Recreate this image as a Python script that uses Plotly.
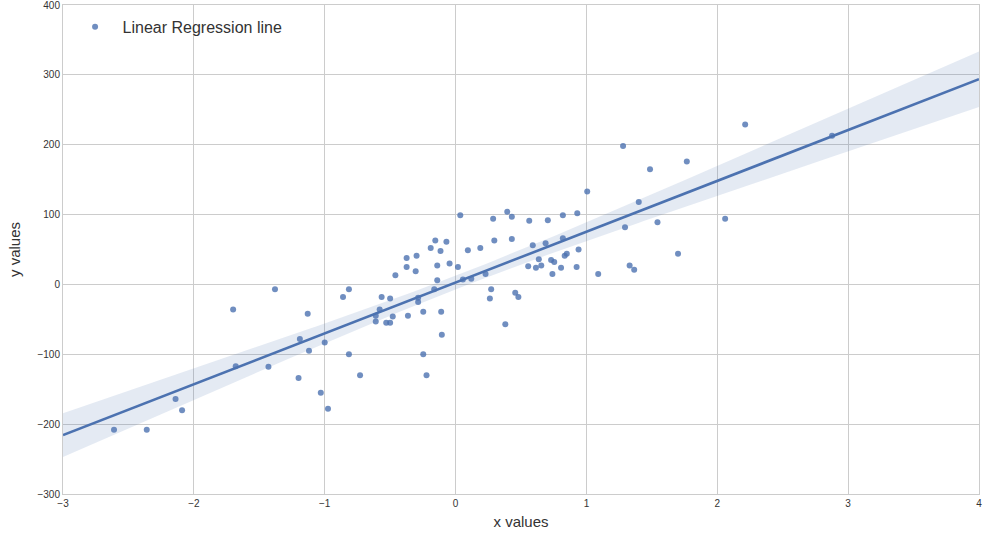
import numpy as np
import plotly.graph_objects as go

# points
x_vals = [-2.61, -2.36, -2.14, -2.09, -1.70, -1.68, -1.38, -1.43, -1.20, -1.19,
          -1.13, -1.12, -1.03, -1.00, -0.975, -0.86, -0.815, -0.815, -0.73, -0.61,
          -0.61, -0.58, -0.565, -0.53, -0.50, -0.50, -0.48, -0.46, -0.374, -0.374,
          -0.364, -0.305, -0.298, -0.286, -0.286, -0.247, -0.247, -0.222, -0.19, -0.163,
          -0.155, -0.14, -0.14, -0.115, -0.11, -0.105, -0.07, -0.046, 0.018, 0.036,
          0.056, 0.094, 0.12, 0.189, 0.229, 0.262, 0.272, 0.287, 0.296, 0.38,
          0.395, 0.43, 0.43, 0.456, 0.48, 0.555, 0.563, 0.59, 0.614, 0.636,
          0.655, 0.688, 0.705, 0.73, 0.74, 0.754, 0.806, 0.82, 0.82, 0.834,
          0.85, 0.925, 0.93, 0.94, 1.006, 1.09, 1.28, 1.295, 1.33, 1.365,
          1.40, 1.486, 1.543, 1.70, 1.767, 2.06, 2.213, 2.877]
y_vals = [-208, -208, -164, -180, -36, -117, -7, -118, -134, -78,
          -42, -95, -155, -83, -178, -18, -7, -100, -130, -45,
          -53, -36, -18, -55, -55, -20, -46, 13, 25, 38,
          -45, 19, 41, -19, -25, -39, -100, -130, 52, -7,
          63, 27, 6, 48, -39, -72, 61, 30, 25, 99,
          7, 49, 8, 52, 15, -20, -7, 94, 63, -57,
          104, 97, 65, -12, -18, 26, 91, 56, 24, 36,
          27, 59, 92, 35, 15, 32, 24, 99, 66, 41,
          44, 25, 102, 50, 133, 15, 198, 82, 27, 21,
          118, 165, 89, 44, 176, 94, 229, 213]

x_ticks = [-3, -2, -1, 0, 1, 2, 3, 4]
y_ticks = [-300, -200, -100, 0, 100, 200, 300, 400]

blue = '#4C72B0'
grid = '#cccccc'

# least squares fit + 95% band of the mean, like seaborn regplot
x = np.array(x_vals, dtype=float)
y = np.array(y_vals, dtype=float)
n = len(x)
slope, intercept = np.polyfit(x, y, 1)
resid = y - (slope * x + intercept)
s = np.sqrt((resid ** 2).sum() / (n - 2))
sxx = ((x - x.mean()) ** 2).sum()
xg = np.linspace(x_ticks[0], x_ticks[-1], 200)
yg = slope * xg + intercept
half = 1.984 * s * np.sqrt(1.0 / n + (xg - x.mean()) ** 2 / sxx)

fig = go.Figure()
fig.add_trace(go.Scatter(x=xg, y=yg + half, mode='lines', line=dict(width=0),
                         hoverinfo='skip', showlegend=False))
fig.add_trace(go.Scatter(x=xg, y=yg - half, mode='lines', line=dict(width=0),
                         fill='tonexty', fillcolor='rgba(76,114,176,0.15)',
                         hoverinfo='skip', showlegend=False))
fig.add_trace(go.Scatter(x=x_vals, y=y_vals, mode='markers', name='Linear Regression line',
                         marker=dict(color=blue, size=6, opacity=0.8)))
fig.add_trace(go.Scatter(x=xg, y=yg, mode='lines', line=dict(color=blue, width=2.6),
                         showlegend=False))

axis_style = dict(showgrid=True, gridcolor=grid, gridwidth=1, zeroline=False,
                  showline=True, linecolor=grid, linewidth=1, mirror=True,
                  ticks='', automargin=False, ticklabeloverflow='allow',
                  tickfont=dict(size=10, color='#333333'))

fig.update_xaxes(range=[x_ticks[0], x_ticks[-1]], tickvals=x_ticks,
                 title=dict(text='x values', font=dict(size=15, color='#333333'), standoff=8),
                 **axis_style)
fig.update_yaxes(range=[y_ticks[0], y_ticks[-1]], tickvals=y_ticks,
                 title=dict(text='y values', font=dict(size=15, color='#333333'), standoff=13),
                 **axis_style)

fig.update_layout(
    width=994, height=541,
    margin=dict(l=63, r=15, t=5, b=47),
    paper_bgcolor='white', plot_bgcolor='white',
    font=dict(family='Liberation Sans, Arial, sans-serif'),
    legend=dict(x=0.005, y=0.99, xanchor='left', yanchor='top', itemwidth=45,
                font=dict(size=16, color='#333333'), bgcolor='rgba(0,0,0,0)'),
)

# drop the default page margin so the figure sits at the window corner
fig.write_html('out.html', config={'displayModeBar': False},
               post_script="document.body.style.margin='0';")
